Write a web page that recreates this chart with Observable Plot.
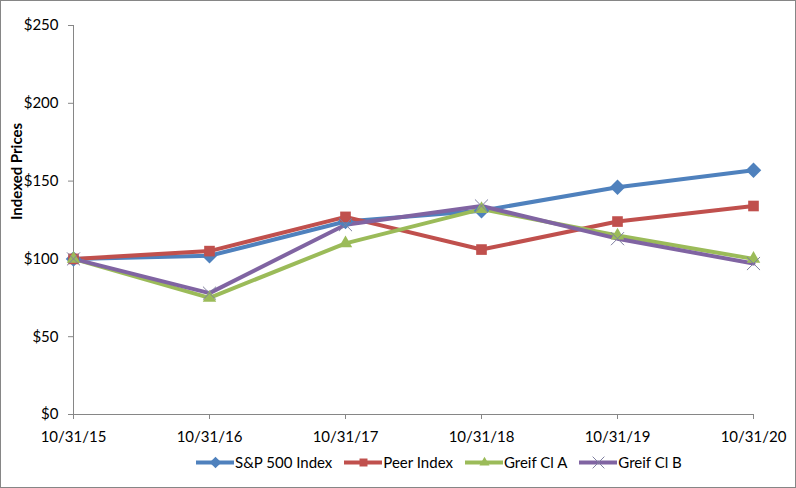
<!DOCTYPE html>
<html><head><meta charset="utf-8">
<script src="https://cdn.jsdelivr.net/npm/d3@7"></script>
<script src="https://cdn.jsdelivr.net/npm/@observablehq/plot@0.6"></script>
<style>
html,body{margin:0;padding:0;background:#fff;}
#wrap{width:796px;height:488px;box-sizing:border-box;border:1px solid #868686;position:relative;overflow:hidden;font-family:Lato,"Open Sans",sans-serif;}
#chart svg{display:block;}
#legend{position:absolute;left:195px;top:451px;display:flex;gap:12px;font-size:15px;color:#000;}
.item{display:flex;align-items:center;}
.item svg{margin-right:1px;}
</style></head>
<body><div id="wrap"><div id="chart"></div><div id="legend"></div></div>
<script>
const dates = ["10/31/15","10/31/16","10/31/17","10/31/18","10/31/19","10/31/20"];
const sp500 = [100, 102, 124, 131, 146, 157];
const peer = [100, 105, 127, 106, 124, 134];
const greifA = [100, 75, 110, 132, 115, 100];
const greifB = [100, 78, 122, 134, 113, 97];
const yTicks = [0, 50, 100, 150, 200, 250];

const series = [
  {name:"S&P 500 Index", values:sp500, color:"#4F81BD", symbol:d3.symbolDiamond2, r:7, fill:true},
  {name:"Peer Index", values:peer, color:"#C0504D", symbol:"square", r:6, fill:true},
  {name:"Greif Cl A", values:greifA, color:"#9BBB59", symbol:"triangle", r:5, fill:true},
  {name:"Greif Cl B", values:greifB, color:"#8064A2", symbol:"times", r:6, fill:false}
];
const rows = s => dates.map((d,i)=>({date:d, value:s.values[i]}));

const marks = [
  Plot.ruleY(yTicks.filter(t=>t>0), {x1:dates[0], x2:dates[dates.length-1], stroke:"#868686", strokeWidth:1}),
  Plot.ruleX([dates[0]], {y1:0, y2:250, stroke:"#868686"}),
  Plot.ruleY([0], {stroke:"#868686"}),
  Plot.axisY({ticks:yTicks, tickFormat:d=>"$"+d, tickSize:5, tickPadding:10, stroke:"#868686", fontSize:15, label:null}),
  Plot.axisX({tickSize:5, tickPadding:12, stroke:"#868686", fontSize:15, label:null}),
  Plot.text(["Indexed Prices"], {frameAnchor:"left", dx:-56, rotate:-90, fontWeight:"bold", fontSize:15, fill:"#000"})
];
for (const s of series) {
  marks.push(Plot.line(rows(s), {x:"date", y:"value", stroke:s.color, strokeWidth:4}));
}
for (const s of series) {
  if (s.fill) marks.push(Plot.dot(rows(s), {x:"date", y:"value", symbol:s.symbol, r:s.r, fill:s.color, stroke:"none"}));
  else marks.push(Plot.dot(rows(s), {x:"date", y:"value", symbol:s.symbol, r:s.r, stroke:"#7f7f9f", strokeWidth:1, fill:"none"}));
}

const chart = Plot.plot({
  width:794, height:447,
  marginLeft:72, marginRight:42, marginTop:24, marginBottom:34,
  style:{fontFamily:"Lato, 'Open Sans', sans-serif", fontSize:"15px", color:"#000", background:"#fff"},
  x:{type:"point", domain:dates, padding:0},
  y:{domain:[0,250]},
  marks
});
document.getElementById("chart").appendChild(chart);

const legend = document.getElementById("legend");
for (const s of series) {
  const it = document.createElement("div"); it.className="item";
  const sw = Plot.plot({
    width:38, height:20, margin:0, axis:null,
    x:{domain:[0,1]}, y:{domain:[0,1]},
    marks:[
      Plot.ruleY([0.5], {x1:0, x2:1, stroke:s.color, strokeWidth:4}),
      s.fill ? Plot.dot([{x:0.5,y:0.5}], {x:"x", y:"y", symbol:s.symbol, r:s.r*0.75, fill:s.color})
             : Plot.dot([{x:0.5,y:0.5}], {x:"x", y:"y", symbol:s.symbol, r:s.r*0.9, stroke:"#7f7f9f", strokeWidth:1, fill:"none"})
    ]
  });
  it.appendChild(sw);
  const t = document.createElement("span"); t.textContent = s.name;
  it.appendChild(t);
  legend.appendChild(it);
}
</script></body></html>
